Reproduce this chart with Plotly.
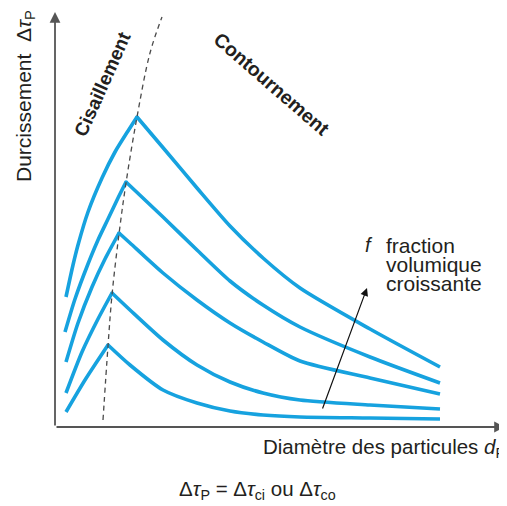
import plotly.graph_objects as go

# Schematic data (arbitrary units: diameter d_P on x, hardening on y)
curve1_x = [11, 18, 23, 33, 47, 60, 73, 82, 110, 142, 175, 208, 245, 315, 385]
curve1_y = [130, 162, 182, 215, 249, 275, 296, 310, 277, 239, 201, 169, 139, 98, 60]
curve2_x = [10, 20, 33, 43, 53, 63, 71, 108, 142, 175, 208, 245, 315, 385]
curve2_y = [95, 128, 163, 187, 208, 229, 245, 210, 177, 146, 122, 100, 70, 44]
curve3_x = [11, 23, 37, 50, 64, 75, 108, 142, 175, 208, 245, 315, 385]
curve3_y = [65, 104, 140, 168, 194, 184, 154, 127, 104, 85, 66, 49, 33]
curve4_x = [11, 27, 43, 57, 75, 108, 142, 175, 208, 245, 315, 385]
curve4_y = [34, 75, 108, 134, 117, 87, 62, 45, 34, 27, 22, 18]
curve5_x = [11, 30, 53, 75, 108, 142, 175, 208, 245, 315, 385]
curve5_y = [15, 47, 82, 62, 37, 24, 16, 12, 10, 9, 8]

boundary_x = [48, 53, 57, 64, 71, 82, 95, 107]
boundary_y = [7, 81, 132, 193, 244, 310, 374, 410]

f_arrow_tail = (267, 17)
f_arrow_head = (312, 139)

x_max = 450
y_max = 415

BLUE = "#16a2df"
TXT = "#231f20"
FONT = "Liberation Sans, Arial, sans-serif"

fig = go.Figure()
for cx, cy in [(curve1_x, curve1_y), (curve2_x, curve2_y), (curve3_x, curve3_y),
               (curve4_x, curve4_y), (curve5_x, curve5_y)]:
    k = cy.index(max(cy))  # peak: split into rising (shearing) and decaying (bypass) branches
    for sx, sy in [(cx[:k + 1], cy[:k + 1]), (cx[k:], cy[k:])]:
        fig.add_trace(go.Scatter(x=sx, y=sy, mode="lines",
                                 line=dict(color=BLUE, width=3.6, shape="spline", smoothing=0.7),
                                 hoverinfo="skip"))
    fig.add_trace(go.Scatter(x=[cx[k]], y=[cy[k]], mode="markers",
                             marker=dict(color=BLUE, size=3.6, line=dict(width=0)),
                             hoverinfo="skip"))

fig.add_trace(go.Scatter(x=boundary_x, y=boundary_y, mode="lines",
                         line=dict(color="#4a4a4a", width=1.3, dash="5px,4px", shape="spline"),
                         hoverinfo="skip"))

annotations = []
# axes with arrows
annotations.append(dict(x=0, y=y_max, ax=0, ay=0, xref="x", yref="y", axref="x", ayref="y",
                        showarrow=True, arrowhead=2, arrowsize=1.2, arrowwidth=1.8,
                        arrowcolor="#555", text=""))
annotations.append(dict(x=x_max, y=0, ax=0, ay=0, xref="x", yref="y", axref="x", ayref="y",
                        showarrow=True, arrowhead=2, arrowsize=1.2, arrowwidth=1.8,
                        arrowcolor="#555", text=""))
# f arrow
annotations.append(dict(x=f_arrow_head[0], y=f_arrow_head[1], ax=f_arrow_tail[0], ay=f_arrow_tail[1],
                        xref="x", yref="y", axref="x", ayref="y",
                        showarrow=True, arrowhead=2, arrowsize=1.3, arrowwidth=1.2,
                        arrowcolor="#111", text=""))

def txt(x, y, text, size=20, angle=0, xanchor="center", yanchor="middle", bold=False, ref="x"):
    annotations.append(dict(x=x, y=y,
                            xref="x" if ref == "x" else "paper",
                            yref="y" if ref == "x" else "paper",
                            text=text, showarrow=False,
                            textangle=angle, xanchor=xanchor, yanchor=yanchor,
                            font=dict(family=FONT, size=size, color=TXT,
                                      weight="bold" if bold else "normal")))

txt(-30 / x_max, 331 / y_max, "Durcissement  Δ<i>τ</i><sub>P</sub>", size=21, angle=-90, ref="paper")
txt(47, 343, "Cisaillement", size=19, angle=-66, bold=True)
txt(217, 343, "Contournement", size=19.5, angle=41, bold=True)
txt(206 / x_max, -21 / y_max, "Diamètre des particules <i>d</i><sub>P</sub>", size=20.5,
    xanchor="left", ref="paper")
txt(122 / x_max, -63 / y_max,
    "Δ<i>τ</i><sub>P</sub> = Δ<i>τ</i><sub>ci</sub> ou Δ<i>τ</i><sub>co</sub>", size=20.5,
    xanchor="left", ref="paper")
txt(308, 182, "<i>f</i>", size=20, xanchor="left")
txt(329, 182, "fraction", size=21, xanchor="left")
txt(329, 163, "volumique", size=21, xanchor="left")
txt(329, 144, "croissante", size=21, xanchor="left")

fig.update_layout(
    width=507, height=506,
    margin=dict(l=47, r=10, t=4, b=87, pad=0),
    paper_bgcolor="white", plot_bgcolor="white",
    showlegend=False,
    xaxis=dict(range=[0, x_max], visible=False, fixedrange=True),
    yaxis=dict(range=[0, y_max], visible=False, fixedrange=True),
    annotations=annotations,
)
fig.write_html("out.html")
